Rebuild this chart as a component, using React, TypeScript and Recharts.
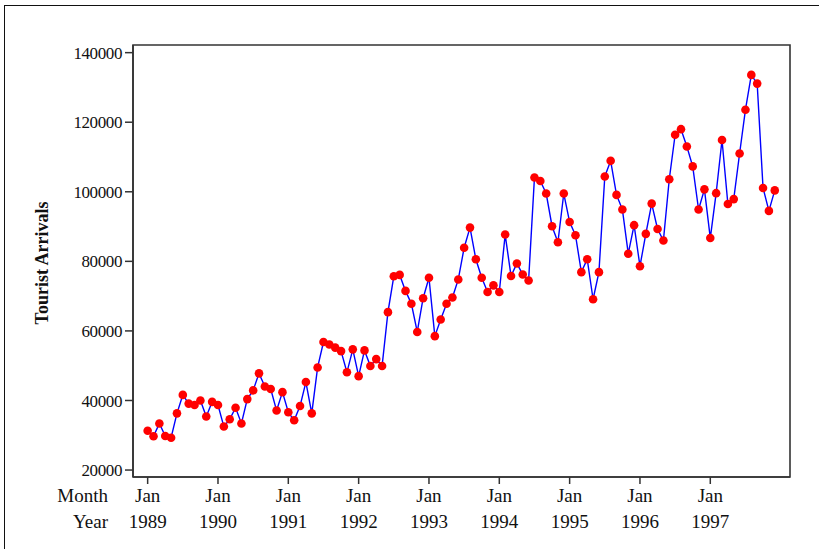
import React from 'react';
import { LineChart, Line, XAxis, YAxis, ReferenceArea } from 'recharts';

const arrivals: number[] = [
  31300, 29700, 33400, 29800, 29300, 36300, 41600, 39100, 38700, 40000, 35400, 39600,
  38700, 32500, 34600, 37900, 33400, 40400, 42900, 47800, 44000, 43300, 37100, 42400,
  36600, 34300, 38400, 45300, 36300, 49500, 56800, 56100, 55200, 54200, 48100, 54700,
  47000, 54400, 49900, 51900, 49900, 65400, 75700, 76100, 71500, 67800, 59700, 69400,
  75300, 58500, 63300, 67800, 69600, 74800, 83900, 89700, 80600, 75300, 71200, 73100,
  71200, 87700, 75800, 79400, 76200, 74500, 104100, 103100, 99500, 90100, 85500, 99500,
  91300, 87500, 76900, 80600, 69100, 76900, 104400, 108900, 99100, 94900, 82200, 90400,
  78600, 87900, 96600, 89300, 86000, 103600, 116400, 118000, 113000, 107300, 94900, 100700,
  86700, 99600, 114900, 96500, 97900, 111000, 123600, 133600, 131100, 101100, 94500, 100400,
];

const tickMonths: string[] = ['Jan', 'Jan', 'Jan', 'Jan', 'Jan', 'Jan', 'Jan', 'Jan', 'Jan'];
const tickYears: string[] = ['1989', '1990', '1991', '1992', '1993', '1994', '1995', '1996', '1997'];
const yTicks: number[] = [20000, 40000, 60000, 80000, 100000, 120000, 140000];

const data = arrivals.map((v, i) => ({ idx: i, value: v }));
const xTicks = tickYears.map((_, i) => i * 12);

const FONT = '"Liberation Serif", "Times New Roman", serif';

const XTick = (props: any) => {
  const { x, y, payload } = props;
  const k = Math.round(payload.value / 12);
  return (
    <g>
      <text x={x} y={y + 16} textAnchor="middle" fontFamily={FONT} fontSize={19} fill="#111">
        {tickMonths[k]}
      </text>
      <text x={x} y={y + 42} textAnchor="middle" fontFamily={FONT} fontSize={19} fill="#111">
        {tickYears[k]}
      </text>
    </g>
  );
};

export default function App() {
  return (
    <div style={{ position: 'absolute', left: 0, top: 0, width: 819, height: 549, background: '#fff' }}>
      <div style={{ position: 'absolute', left: 4, top: 5, width: 815, height: 544, borderTop: '1.5px solid #111', borderLeft: '1.5px solid #111' }} />
      <div style={{ position: 'absolute', left: 0, top: 0 }}>
        <LineChart width={819} height={549} data={data} margin={{ top: 45, right: 29, bottom: 12, left: 0 }}>
          <ReferenceArea x1={-2.5} x2={109.6} y1={18000} y2={142200} fill="none" stroke="#333" strokeWidth={1.6} ifOverflow="visible" />
          <XAxis
            dataKey="idx"
            type="number"
            domain={[-2.5, 109.6]}
            ticks={xTicks}
            interval={0}
            height={60}
            tickSize={7}
            tickMargin={2}
            stroke="#333"
            tickLine={{ stroke: '#333', strokeWidth: 1.5 }}
            axisLine={{ stroke: '#333', strokeWidth: 1.6 }}
            tick={<XTick />}
          />
          <YAxis
            type="number"
            domain={[18000, 142200]}
            ticks={yTicks}
            interval={0}
            width={133}
            tickSize={8}
            tickMargin={3}
            tickLine={{ stroke: '#333', strokeWidth: 1.5 }}
            axisLine={{ stroke: '#333', strokeWidth: 1.6 }}
            tick={{ fill: '#111', fontSize: 17, fontFamily: FONT, letterSpacing: -0.4 }}
          />
          <Line
            type="linear"
            dataKey="value"
            stroke="#0000ff"
            strokeWidth={1.4}
            dot={{ r: 4.3, fill: '#ff0000', stroke: 'none' }}
            isAnimationActive={false}
          />
        </LineChart>
      </div>
      <svg width={819} height={549} style={{ position: 'absolute', left: 0, top: 0, pointerEvents: 'none' }}>
        <text
          x={48}
          y={263}
          transform="rotate(-90 48 263)"
          textAnchor="middle"
          fontFamily={FONT}
          fontWeight="bold"
          fontSize={18}
          fill="#111"
        >
          Tourist Arrivals
        </text>
        <text x={108} y={502} textAnchor="end" fontFamily={FONT} fontSize={19} fill="#111">Month</text>
        <text x={108} y={528} textAnchor="end" fontFamily={FONT} fontSize={19} fill="#111">Year</text>
      </svg>
    </div>
  );
}
